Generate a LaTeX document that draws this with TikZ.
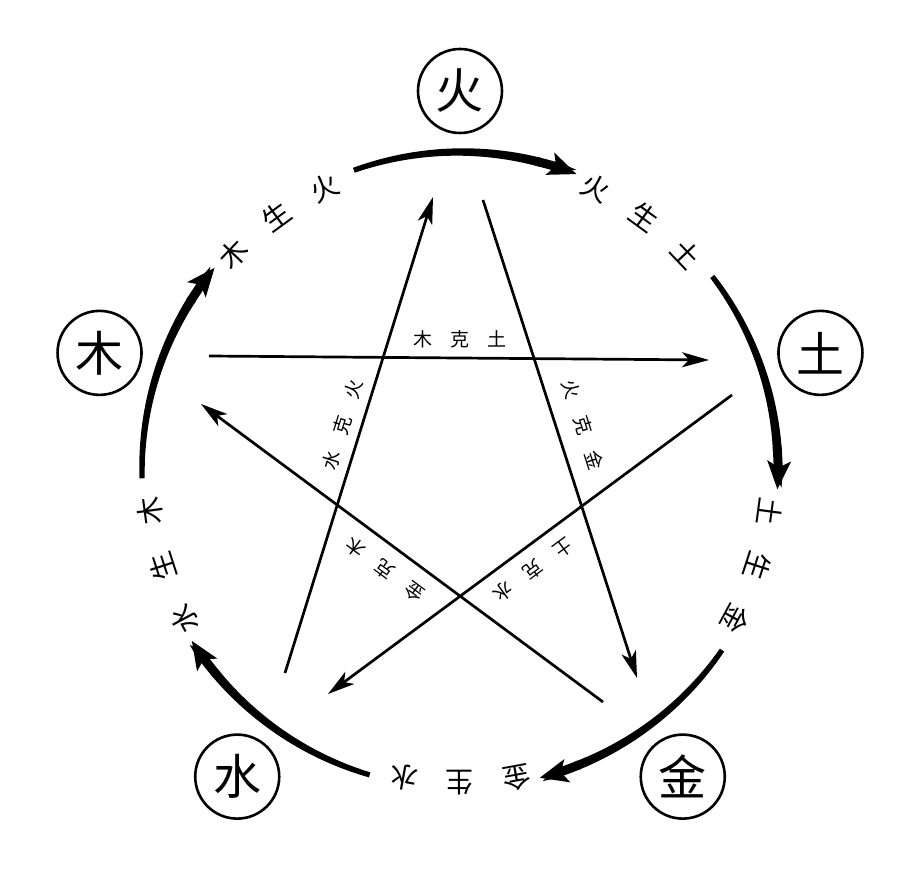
\documentclass[tikz,border=0pt]{standalone}
\usepackage{fontspec}
\setmainfont{Noto Sans CJK SC}
\usetikzlibrary{arrows.meta}
\begin{document}
\begin{tikzpicture}[x=1pt,y=1pt,
  elem/.style={circle, draw, line width=2.6pt, minimum size=84pt, inner sep=0pt, font=\fontsize{48pt}{48pt}\selectfont},
  ringtxt/.style={font=\fontsize{28pt}{28pt}\selectfont, inner sep=0pt},
  startxt/.style={font=\fontsize{19pt}{19pt}\selectfont, inner sep=0pt},
  keline/.style={line width=2.7pt, -{Stealth[length=27pt,width=15pt,inset=7pt]}},
  shengtip/.style={line width=9pt, -{Stealth[length=28pt,width=23pt,inset=6pt]}}
]
\useasboundingbox (-460,-411) rectangle (451,470);
\fill[white] (-460,-411) rectangle (451,470);

% five elements
\node[elem] (huo)  at (90:379)   {火};
\node[elem] (tu)   at (18:379)   {土};
\node[elem] (jin)  at (-54:379)  {金};
\node[elem] (shui) at (-126:379) {水};
\node[elem] (mu)   at (162:379)  {木};

% generating cycle arcs (tapered)
\foreach \t in {90,18,-54,-126,162} {
  \pgfmathsetmacro\s{\t+19.5}
  \pgfmathsetmacro\e{\t-21.5}
  \pgfmathsetmacro\m{\e+7}
  \pgfmathsetmacro\mm{\e+7.6}
  \fill plot[variable=\u, domain=0:1, samples=40] ({\s+(\m-\s)*\u}:{318+(2.6+1.9*\u)})
     -- plot[variable=\u, domain=1:0, samples=40] ({\s+(\m-\s)*\u}:{318-(2.6+1.9*\u)}) -- cycle;
  \draw[shengtip] (\mm:318) arc[start angle=\mm, end angle=\e, radius=318];
}

% generating labels
\foreach \mu/\a/\b/\c [count=\i] in {54/火/生/土, -18/土/生/金, -90/金/生/水, -162/水/生/木, 126/木/生/火} {
  \node[ringtxt, rotate=\mu+10.4-90] (ra\i) at ({\mu+10.4}:313) {\a};
  \node[ringtxt, rotate=\mu-90]      (rb\i) at (\mu:313) {\b};
  \node[ringtxt, rotate=\mu-10.4-90] (rc\i) at ({\mu-10.4}:313) {\c};
}

% overcoming star
\coordinate (k1s) at (-251,114); \coordinate (k1e) at (249,110);
\coordinate (k2s) at (272,75);   \coordinate (k2e) at (-132,-224);
\coordinate (k3s) at (-175,-203); \coordinate (k3e) at (-27,273);
\coordinate (k4s) at (23,270);   \coordinate (k4e) at (177,-208);
\coordinate (k5s) at (143,-232); \coordinate (k5e) at (-259,66);
\draw[keline] (k1s) -- (k1e);
\draw[keline] (k2s) -- (k2e);
\draw[keline] (k3s) -- (k3e);
\draw[keline] (k4s) -- (k4e);
\draw[keline] (k5s) -- (k5e);

\node[startxt] (t1) at (0,131) {木\hspace{18pt}克\hspace{18pt}土};
\node[startxt, rotate=72.7] (t2) at (-118,45) {水\hspace{18pt}克\hspace{18pt}火};
\node[startxt, rotate=-72.1] (t3) at (123,45) {火\hspace{18pt}克\hspace{18pt}金};
\node[startxt, rotate=216.5] (t4) at (73,-100) {土\hspace{18pt}克\hspace{18pt}水};
\node[startxt, rotate=143.5] (t5) at (-75,-100) {金\hspace{18pt}克\hspace{18pt}木};
\end{tikzpicture}
\end{document}
